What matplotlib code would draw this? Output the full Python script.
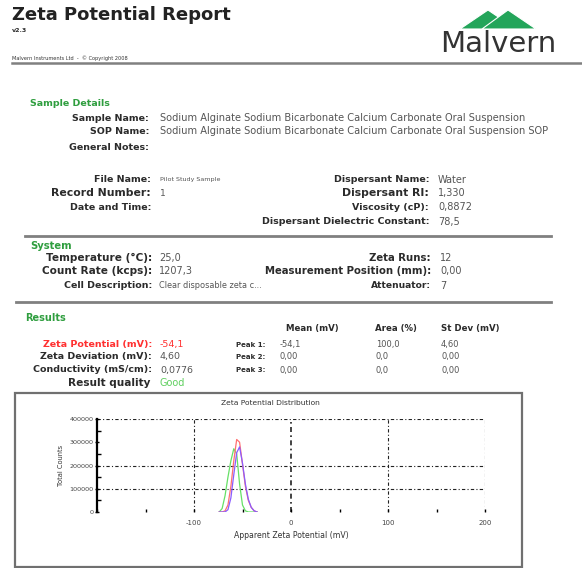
import matplotlib
matplotlib.use("Agg")
import matplotlib.pyplot as plt
from matplotlib.patches import Polygon, Rectangle
from matplotlib.lines import Line2D

W, H = 582, 568

# distribution data
zeta_mv = [-74, -71, -68, -65, -62, -59, -56, -53, -50, -47, -44, -41, -38, -35]
run_green = [0, 15000, 70000, 150000, 220000, 272000, 250000, 120000, 30000, 5000, 0, 0, 0, 0]
run_red = [0, 0, 5000, 30000, 110000, 220000, 312000, 300000, 205000, 110000, 50000, 20000, 5000, 0]
run_blue = [0, 0, 0, 10000, 60000, 160000, 255000, 280000, 210000, 120000, 55000, 20000, 5000, 0]
y_ticks = [0, 100000, 200000, 300000, 400000]
y_tick_labels = ['0', '100000', '200000', '300000', '400000']
x_ticks = [-200, -100, 0, 100, 200]
x_tick_labels = ['', '-100', '0', '100', '200']
grid_counts = [100000, 200000, 400000]
grid_mv = [-100, 0, 100, 200]

# report fields
sample_labels = ['Sample Name:', 'SOP Name:', 'General Notes:']
sample_values = ['Sodium Alginate Sodium Bicarbonate Calcium Carbonate Oral Suspension',
                 'Sodium Alginate Sodium Bicarbonate Calcium Carbonate Oral Suspension SOP', '']
file_labels = ['File Name:', 'Record Number:', 'Date and Time:']
file_values = ['Pilot Study Sample', '1', '']
disp_labels = ['Dispersant Name:', 'Dispersant RI:', 'Viscosity (cP):', 'Dispersant Dielectric Constant:']
disp_values = ['Water', '1,330', '0,8872', '78,5']
sys_labels = ['Temperature (°C):', 'Count Rate (kcps):', 'Cell Description:']
sys_values = ['25,0', '1207,3', 'Clear disposable zeta c...']
sys2_labels = ['Zeta Runs:', 'Measurement Position (mm):', 'Attenuator:']
sys2_values = ['12', '0,00', '7']
res_labels = ['Zeta Potential (mV):', 'Zeta Deviation (mV):', 'Conductivity (mS/cm):']
res_values = ['-54,1', '4,60', '0,0776']
peak_labels = ['Peak 1:', 'Peak 2:', 'Peak 3:']
peak_mean = ['-54,1', '0,00', '0,00']
peak_area = ['100,0', '0,0', '0,0']
peak_sd = ['4,60', '0,00', '0,00']

GREEN = '#2f9e3f'
LABEL = '#2b2b2b'
VALUE = '#555555'

fig = plt.figure(figsize=(W / 100, H / 100), dpi=100)
fig.patch.set_facecolor('white')


def fx(x):
    return x / W


def fy(y):
    return 1 - y / H


def txt(x, y, s, size=6, ha='left', color=LABEL, weight='bold', **kw):
    fig.text(fx(x), fy(y), s, fontsize=size, ha=ha, va='center', color=color,
             weight=weight, family='DejaVu Sans', **kw)


def hline(y, x0, x1, lw=2.0, color='#808080'):
    fig.add_artist(Line2D([fx(x0), fx(x1)], [fy(y), fy(y)], color=color, lw=lw,
                          transform=fig.transFigure))


# header
txt(12, 15, 'Zeta Potential Report', size=13, color='#222222')
txt(12, 30, 'v2.3', size=4.5)
txt(12, 58, 'Malvern Instruments Ltd  -  © Copyright 2008', size=3.6, weight='normal', color='#333333')
hline(63, 12, 582, lw=1.8)

# logo
for peak_x, base in [(488, (460, 516)), (508, (482, 536))]:
    tri = Polygon([(fx(base[0]), fy(29)), (fx(peak_x), fy(10)), (fx(base[1]), fy(29))],
                  closed=True, facecolor='#23a55a', edgecolor='white', lw=0.8,
                  transform=fig.transFigure)
    fig.add_artist(tri)
txt(498, 44, 'Malvern', size=21, ha='center', weight='normal', color='#333333')

# sample details
txt(30, 104, 'Sample Details', size=6.8, color=GREEN)
for y, lab, val in zip([118, 131, 148], sample_labels, sample_values):
    txt(149, y, lab, size=6.8, ha='right')
    txt(160, y, val, size=7.1, weight='normal', color=VALUE)
for y, lab, val in zip([180, 193, 207], file_labels, file_values):
    txt(151, y, lab, size=6.8 if y != 193 else 7.8, ha='right')
    txt(160, y, val, size=4.6 if y != 193 else 6.5, weight='normal', color=VALUE)
for y, lab, val in zip([180, 193, 207, 222], disp_labels, disp_values):
    txt(429, y, lab, size=6.8 if y != 193 else 7.8, ha='right')
    txt(438, y, val, size=7.0, weight='normal', color=VALUE)
hline(236, 25, 551)

# system
txt(30, 246, 'System', size=7.2, color=GREEN)
for y, lab, val in zip([258, 271, 285], sys_labels, sys_values):
    txt(152, y, lab, size=7.6 if y != 285 else 6.8, ha='right')
    txt(159, y, val, size=7.0 if y != 285 else 5.9, weight='normal', color=VALUE)
for y, lab, val in zip([258, 271, 286], sys2_labels, sys2_values):
    txt(431, y, lab, size=7.3 if y != 286 else 6.6, ha='right')
    txt(440, y, val, size=7.0, weight='normal', color=VALUE)
hline(302, 16, 551)

# results
txt(25, 318, 'Results', size=7.0, color=GREEN)
for x, head in zip([286, 375, 441], ['Mean (mV)', 'Area (%)', 'St Dev (mV)']):
    txt(x, 329, head, size=6.2)
for i, (y, lab, val) in enumerate(zip([345, 357, 370], res_labels, res_values)):
    c = '#ff3030' if i == 0 else LABEL
    txt(152, y, lab, size=6.8, ha='right', color=c)
    txt(160, y, val, size=6.8, weight='normal', color='#ff3030' if i == 0 else VALUE)
    txt(236, y, peak_labels[i], size=5.0)
    txt(280, y, peak_mean[i], size=6.0, weight='normal', color=VALUE)
    txt(376, y, peak_area[i], size=6.0, weight='normal', color=VALUE)
    txt(441, y, peak_sd[i], size=6.0, weight='normal', color=VALUE)
txt(151, 383, 'Result quality', size=7.6, ha='right')
txt(160, 383, 'Good', size=7.0, weight='normal', color='#5fcf5f')

# chart frame
fig.add_artist(Rectangle((fx(15), fy(567)), fx(522) - fx(15), fy(393) - fy(567),
                         transform=fig.transFigure, fill=False, edgecolor='#707070', lw=1.6))
txt(270, 403, 'Zeta Potential Distribution', size=5.4, ha='center', weight='normal', color='#333333')

ax = fig.add_axes([fx(97), fy(512), fx(485) - fx(97), fy(419) - fy(512)])
ax.plot(zeta_mv, run_green, color='#66e066', lw=0.9)
ax.plot(zeta_mv, run_red, color='#ff7070', lw=0.9)
ax.plot(zeta_mv, run_blue, color='#8a5cff', lw=0.9)
for yv in grid_counts:
    ax.axhline(yv, color='#222222', lw=0.8, ls=(0, (3, 2, 1, 2)), zorder=0)
for xv in grid_mv:
    ax.axvline(xv, color='#222222', lw=0.8 if xv != 0 else 1.2, ls=(0, (3, 2, 1, 2)), zorder=0)
ax.set_xlim(-200, 200)
ax.set_ylim(0, 400000)
ax.set_xticks(x_ticks)
ax.set_xticklabels(x_tick_labels)
ax.set_xticks([-150, -50, 50, 150], minor=True)
ax.set_yticks(y_ticks)
ax.set_yticklabels(y_tick_labels)
ax.set_yticks([50000, 150000, 250000, 350000], minor=True)
for s in ['top', 'right', 'bottom']:
    ax.spines[s].set_visible(False)
ax.spines['left'].set_linewidth(1.6)
ax.tick_params(axis='y', which='major', length=3, width=1, direction='inout', labelsize=4.6,
               labelcolor='#444444', pad=1)
ax.tick_params(axis='y', which='minor', length=3, width=1, direction='in')
ax.tick_params(axis='x', which='both', length=2, width=1, direction='in', labelsize=5.0,
               labelcolor='#444444', pad=6)
ax.set_xlabel('Apparent Zeta Potential (mV)', fontsize=5.6, color='#333333', labelpad=3)
ax.set_ylabel('Total Counts', fontsize=4.8, color='#333333', labelpad=4)
ax.patch.set_alpha(0)

fig.savefig('out.png', dpi=100, facecolor='white')
